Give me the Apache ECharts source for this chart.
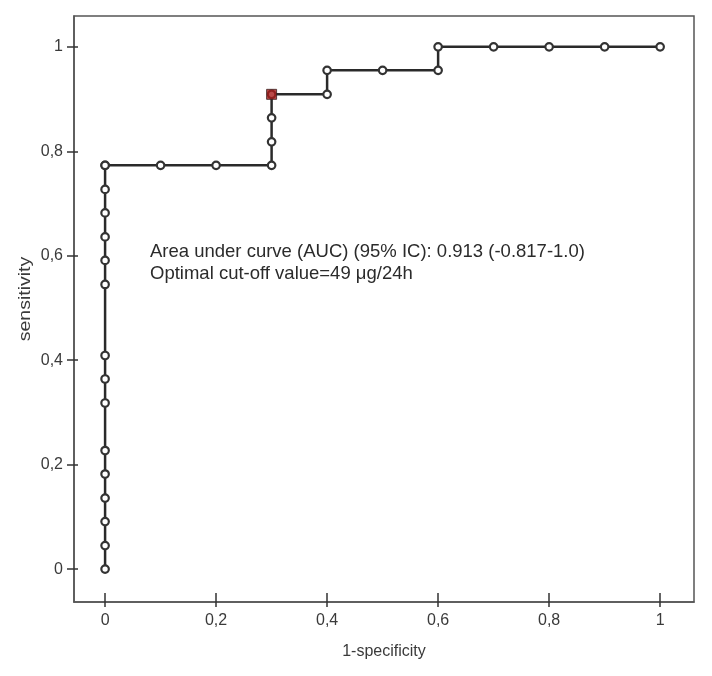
<!DOCTYPE html>
<html><head><meta charset="utf-8">
<script src="https://cdn.jsdelivr.net/npm/echarts@6/dist/echarts.min.js"></script>
<style>html,body{margin:0;padding:0;background:#fff}#c{width:712px;height:676px}</style>
</head><body><div id="c"></div>
<script>
// 1-specificity (x) and sensitivity (y) of the ROC curve points
const fpr = [0,0,0,0,0,0,0,0,0,0,0,0,0,0,0,0,0.1,0.2,0.3,0.3,0.3,0.3,0.4,0.4,0.5,0.6,0.6,0.7,0.8,0.9,1];
const tpr = [0,0.045,0.091,0.136,0.182,0.227,0.318,0.364,0.409,0.545,0.591,0.636,0.682,0.727,0.773,0.773,0.773,0.773,0.773,0.818,0.864,0.909,0.909,0.955,0.955,0.955,1,1,1,1,1];
// optimal cut-off point
const cutX = [0.3];
const cutY = [0.909];
const xTicks = [0,0.2,0.4,0.6,0.8,1];
const yTicks = [0,0.2,0.4,0.6,0.8,1];
const annotation = [
  'Area under curve (AUC) (95% IC): 0.913 (-0.817-1.0)',
  'Optimal cut-off value=49 \u03bcg/24h'
];
const xName = '1-specificity';
const yName = 'sensitivity';

const fmt = v => String(v).replace('.', ',');
const chart = echarts.init(document.getElementById('c'));
const XMIN = -0.056, XMAX = 1.061, YMIN = -0.063, YMAX = 1.059;
const FF = '"Liberation Sans", Arial, sans-serif';
const labelFont = {fontFamily:FF, fontSize:16, color:'#3a3a3a'};
chart.setOption({
  animation:false,
  grid:{left:74, top:16, right:18, bottom:74, show:true, borderColor:'#555', borderWidth:1.5, backgroundColor:'#fff'},
  xAxis:[{
    type:'value', min:XMIN, max:XMAX, position:'bottom',
    name:xName, nameLocation:'middle', nameGap:42,
    nameTextStyle:{fontFamily:FF, fontSize:16, color:'#3a3a3a'},
    axisLine:{show:true, onZero:false, lineStyle:{color:'#555', width:1.5}},
    axisTick:{show:true, inside:false, length:5, customValues:xTicks, lineStyle:{color:'#333', width:1.5}},
    axisLabel:Object.assign({customValues:xTicks, formatter:fmt, margin:11}, labelFont),
    splitLine:{show:false}
  },{
    type:'value', min:XMIN, max:XMAX, position:'bottom', offset:0,
    axisLine:{show:false, onZero:false},
    axisTick:{show:true, inside:true, length:9, customValues:xTicks, lineStyle:{color:'#333', width:1.5}},
    axisLabel:{show:false}, splitLine:{show:false}
  }],
  yAxis:[{
    type:'value', min:YMIN, max:YMAX, position:'left',
    axisLine:{show:true, onZero:false, lineStyle:{color:'#555', width:1.5}},
    axisTick:{show:true, inside:false, length:7, customValues:yTicks, lineStyle:{color:'#333', width:1.5}},
    axisLabel:Object.assign({customValues:yTicks, formatter:fmt, margin:11}, labelFont),
    splitLine:{show:false}
  },{
    type:'value', min:YMIN, max:YMAX, position:'left', offset:0,
    axisLine:{show:false, onZero:false},
    axisTick:{show:true, inside:true, length:4, customValues:yTicks, lineStyle:{color:'#333', width:1.5}},
    axisLabel:{show:false}, splitLine:{show:false}
  }],
  series:[{
    type:'line', xAxisIndex:0, yAxisIndex:0,
    data:fpr.map((x,i)=>[x,tpr[i]]),
    symbol:'circle', symbolSize:7.5, showAllSymbol:true,
    lineStyle:{color:'#2a2a2a', width:2.5},
    itemStyle:{color:'#fff', borderColor:'#333', borderWidth:2.2}
  },{
    type:'scatter', xAxisIndex:0, yAxisIndex:0,
    data:cutX.map((x,i)=>[x,cutY[i]]),
    symbol:'rect', symbolSize:10, z:5,
    itemStyle:{color:'#a81c1a', borderColor:'#3a2020', borderWidth:1}
  }],
  graphic:[{
    type:'text', left:150, top:241,
    style:{text:annotation.join('\n'), font:'18.5px ' + FF, fill:'#2b2b2b', lineHeight:22}
  },{
    type:'text', x:26, y:299, rotation:Math.PI/2, scaleX:1.22,
    style:{text:yName, font:'16px ' + FF, fill:'#3a3a3a', align:'center', verticalAlign:'middle'}
  }]
});
</script></body></html>
